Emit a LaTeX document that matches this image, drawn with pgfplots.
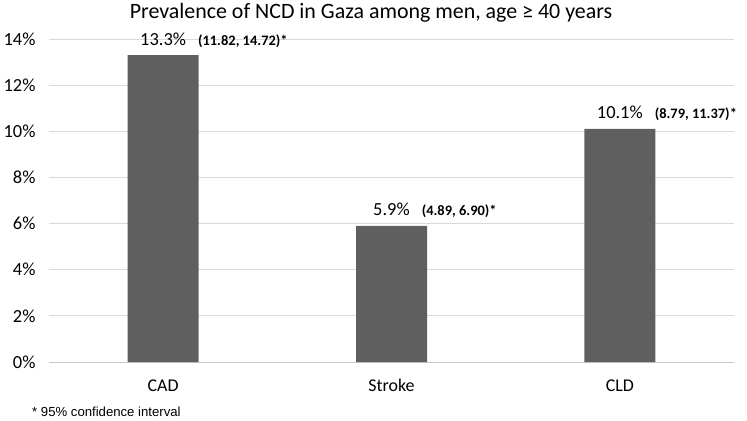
\documentclass[border=0pt]{standalone}
\usepackage{pgfplots}
\pgfplotsset{compat=1.18}
\usepackage{fontspec}
\setmainfont{Carlito}
\newfontfamily\arialfont{Liberation Sans}
\definecolor{barcol}{RGB}{95,95,95}
\definecolor{gridcol}{RGB}{217,217,217}
\definecolor{axcol}{RGB}{200,200,200}
\newsavebox\valbox

\begin{document}
\begin{tikzpicture}
\path[use as bounding box] (-49bp,-59bp) rectangle (698bp,362bp);
\begin{axis}[
    at={(0,0)}, anchor=south west,
    scale only axis,
    width=685bp, height=323bp,
    xmin=-0.5, xmax=2.5,
    ymin=0, ymax=14,
    axis x line*=bottom,
    axis y line*=left,
    y axis line style={draw=none},
    x axis line style={draw=axcol, line width=0.8bp},
    ytick={0,2,4,6,8,10,12,14},
    yticklabels={0\%,2\%,4\%,6\%,8\%,10\%,12\%,14\%},
    ytick style={draw=none},
    ymajorgrids,
    grid style={draw=gridcol, line width=0.8bp},
    xtick={0,1,2},
    xticklabels={CAD,Stroke,CLD},
    x tick style={draw=none},
    extra x ticks={-0.5,0.5,1.5,2.5},
    extra x tick labels={},
    extra x tick style={tick align=outside, major tick length=6bp,
        tick style={draw=axcol, line width=0.8bp}},
    yticklabel style={font=\fontsize{18.5}{20}\selectfont, xshift=-10bp},
    xticklabel style={font=\fontsize{18}{20}\selectfont, anchor=base, yshift=-29bp},
    clip=false,
]
\addplot[ybar, bar width=71bp, fill=barcol, draw=none,
    point meta=explicit symbolic,
    visualization depends on={y \as \yval},
    nodes near coords={%
        \sbox\valbox{\fontsize{18.5}{20}\selectfont\pgfmathprintnumber[fixed,precision=1,fixed zerofill,assume math mode=true]{\yval}\%}%
        \makebox[0pt][c]{\usebox\valbox}%
        \makebox[0pt][l]{\hspace{0.5\wd\valbox}\hspace{12bp}\fontsize{14.5}{16}\selectfont\bfseries\pgfplotspointmeta}},
    every node near coord/.append style={anchor=base, inner sep=0pt, yshift=10bp, black},
] coordinates {
    (0,13.3) [(11.82, 14.72)*]
    (1,5.9)  [(4.89, 6.90)*]
    (2,10.1) [(8.79, 11.37)*]
};
\end{axis}
\node[anchor=base, inner sep=0pt, font=\fontsize{22}{24}\selectfont, black] at (322bp,343bp)
    {Prevalence of NCD in Gaza among men, age ≥ 40 years};
\node[anchor=base west, inner sep=0pt, font=\arialfont\fontsize{13.2}{15}\selectfont] at (-17bp,-54bp)
    {* 95\% confidence interval};
\end{tikzpicture}
\end{document}
